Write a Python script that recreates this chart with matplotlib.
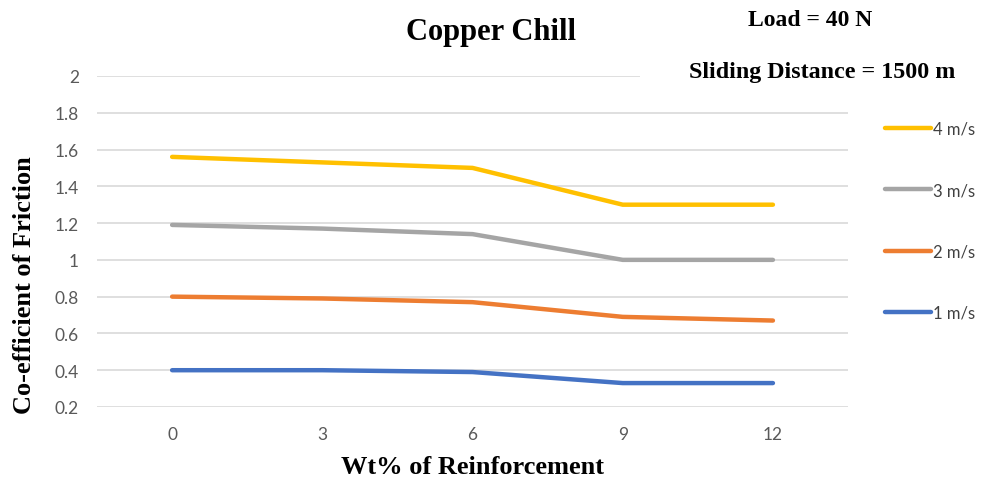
import matplotlib.pyplot as plt
from matplotlib.patches import Rectangle

# Wear test data: coefficient of friction vs reinforcement content
wt_pct = [0, 3, 6, 9, 12]
cof_1 = [0.40, 0.40, 0.39, 0.33, 0.33]
cof_2 = [0.80, 0.79, 0.77, 0.69, 0.67]
cof_3 = [1.19, 1.17, 1.14, 1.00, 1.00]
cof_4 = [1.56, 1.53, 1.50, 1.30, 1.30]
speeds = ["1 m/s", "2 m/s", "3 m/s", "4 m/s"]
yticks = [0.2, 0.4, 0.6, 0.8, 1, 1.2, 1.4, 1.6, 1.8, 2]

colors = ["#4472C4", "#ED7D31", "#A5A5A5", "#FFC000"]
serif = "Liberation Serif"
sans = "Lato"

fig = plt.figure(figsize=(9.83, 4.81), dpi=100)
ax = fig.add_axes([0.0987, 0.1518, 0.764, 0.6882])

lines = []
for vals, lab, c in zip([cof_1, cof_2, cof_3, cof_4], speeds, colors):
    ln, = ax.plot(wt_pct, vals, color=c, lw=3.2, label=lab,
                  solid_capstyle="round", solid_joinstyle="round", zorder=3)
    lines.append(ln)

# category-style padding of half a step on both ends
ax.set_xlim(-1.5, 13.5)
ax.set_ylim(0.2, 2.0)
ax.set_xticks(wt_pct)
ax.set_xticklabels([str(v) for v in wt_pct])
ax.set_yticks(yticks)
ax.set_yticklabels(["%g" % v for v in yticks])
ax.grid(axis="y", color="#d9d9d9", lw=1.2)
ax.set_axisbelow(True)
for s in ax.spines.values():
    s.set_visible(False)
ax.tick_params(length=0, labelsize=12.5, labelcolor="#595959")
ax.tick_params(axis="y", pad=13)
ax.tick_params(axis="x", pad=14)
for t in ax.get_xticklabels() + ax.get_yticklabels():
    t.set_fontfamily(sans)

ax.set_xlabel("Wt% of Reinforcement", fontsize=19, fontweight="bold",
              fontfamily=serif)
ax.set_ylabel("Co-efficient of Friction", fontsize=19, fontweight="bold",
              fontfamily=serif)
ax.xaxis.set_label_coords(0.5, -0.181)
ax.yaxis.set_label_coords(-0.096, 0.372)
ax.xaxis.label.set_va("center")
ax.yaxis.label.set_va("center")

fig.text(0.5, 0.932, "Copper Chill", ha="center", va="center", fontsize=22,
         fontweight="bold", fontfamily=serif)

# white text box that hides the end of the top gridline
fig.add_artist(Rectangle((0.651, 0.81), 0.35, 0.07, transform=fig.transFigure,
                         facecolor="white", edgecolor="none", zorder=2))
fig.text(0.824, 0.958, "Load = 40 N", ha="center", va="center", fontsize=17,
         fontweight="bold", fontfamily=serif, zorder=3)
fig.text(0.836, 0.85, "Sliding Distance = 1500 m", ha="center", va="center",
         fontsize=17.3, fontweight="bold", fontfamily=serif, zorder=3)

leg = fig.legend(lines[::-1], speeds[::-1], loc="upper left",
                 bbox_to_anchor=(0.885, 0.778), frameon=False,
                 handlelength=2.75, handletextpad=0.15, labelspacing=2.72,
                 prop={"family": sans, "size": 12})
for t in leg.get_texts():
    t.set_color("#404040")

fig.savefig("out.png", dpi=100)
